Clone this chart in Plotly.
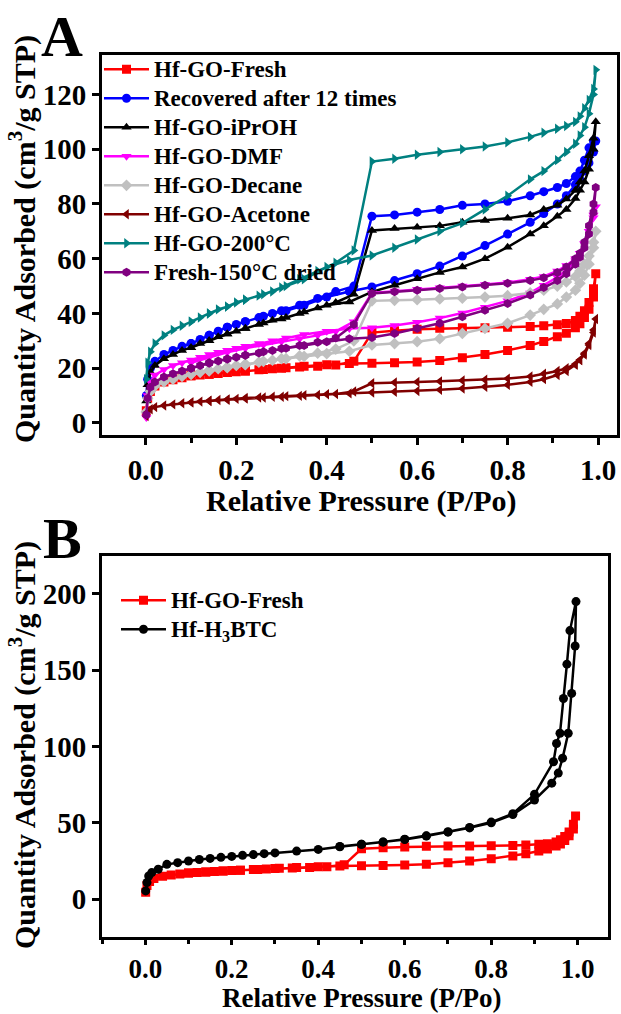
import plotly.graph_objects as go

# ---------------- Panel A: N2 isotherms of the Hf-GO samples ----------------
p_ads = [0.001, 0.004, 0.01, 0.02, 0.04, 0.06, 0.08, 0.10, 0.12, 0.14, 0.16, 0.18, 0.20,
         0.22, 0.25, 0.28, 0.31, 0.35, 0.40, 0.45, 0.50, 0.55, 0.60, 0.65, 0.70, 0.75,
         0.80, 0.85, 0.88, 0.91, 0.93, 0.95, 0.96, 0.97, 0.98, 0.99, 0.995]
p_des = [0.99, 0.98, 0.97, 0.96, 0.95, 0.93, 0.91, 0.88, 0.85, 0.80, 0.75, 0.70, 0.65,
         0.60, 0.55, 0.50, 0.46, 0.42, 0.38, 0.34, 0.30, 0.26, 0.22, 0.18, 0.14, 0.10]

fresh_ads = [4.5, 9, 11.5, 13.5, 15, 15.8, 16.5, 17.2, 17.5, 17.8, 18.1, 18.4, 18.7,
             19, 19.4, 19.8, 20.2, 20.7, 21.3, 21.7, 21.8, 22, 22.3, 22.8, 23.8, 25,
             26.5, 28.3, 29.8, 31.5, 32.8, 34.8, 36.2, 38.5, 41.5, 46, 54.5]
fresh_des = [49, 44, 41, 39, 37.4, 36.3, 35.9, 35.5, 35.2, 35, 34.8, 34.8, 34.6,
             34.2, 33.7, 33, 22.5, 21.2, 20.7, 20.4, 20, 19.5, 19, 18.4, 17.8, 17.2]

recov_ads = [10, 16, 20, 22.5, 25, 26.5, 28, 29, 30.5, 32, 33.5, 35, 36,
             37, 38.5, 40, 41, 43, 46, 48, 49.7, 52, 54.5, 57.3, 61, 64.8,
             69, 73.3, 76.5, 80, 83, 87, 89, 92, 95, 99, 103]
recov_des = [103, 100.5, 96, 92, 90, 87.5, 86, 84.5, 83, 81, 80, 79.5, 78,
             77, 76, 75.5, 50, 48, 45.5, 43, 41, 39, 37, 35, 32, 29]

iproh_ads = [8, 14, 18.5, 21, 23.5, 25, 26.5, 27.5, 29, 30, 31.5, 32.5, 33.5,
             34.5, 36, 37.5, 38.5, 40.5, 43, 44.2, 47.9, 50.3, 52.7, 55, 57, 60,
             64.2, 69, 72, 75.5, 78, 82, 85, 88, 92.7, 100, 110]
iproh_des = [104, 97.6, 92, 88, 85, 81.8, 79.5, 78, 76, 74.8, 74, 73.3, 72,
             71.5, 71, 70.3, 47, 44, 42, 40, 38, 36.5, 34.5, 32.5, 30, 27.5]

dmf_ads = [2, 10, 15, 17.5, 19.5, 21, 22, 23, 24, 25, 25.8, 26.6, 27.3,
           28, 29, 30, 31, 32.3, 33.5, 34.5, 34.8, 35.6, 36.8, 38.3, 40.2, 42.3,
           44.6, 47.5, 50.3, 53.2, 55.8, 59.3, 62, 65.5, 70, 75, 79]
dmf_des = [76, 70, 65.5, 62, 60, 57.5, 55.5, 53.5, 52.5, 51.3, 50.6, 50, 49.4,
           48.8, 48.2, 47.5, 37, 33.5, 32, 30.8, 29.8, 28.6, 27.3, 25.8, 24, 22]

decane_ads = [4, 9, 11.5, 13.5, 15, 16, 17, 17.8, 18.5, 19.2, 19.8, 20.4, 21,
              21.5, 22.2, 22.9, 23.5, 24.3, 25.3, 26.2, 28.5, 29, 29.7, 30.8, 32.7, 34.5,
              36.4, 39.4, 41.5, 43.5, 46, 48.5, 51, 54, 58, 64, 70]
decane_des = [66, 61, 58, 55.5, 53.5, 51.5, 50, 48.5, 47.5, 46.5, 46, 45.6, 45.3,
              45, 44.8, 44.6, 30, 27, 25.5, 24.5, 23.5, 22.5, 21.3, 20.2, 19, 17.8]

acetone_ads = [2.5, 4, 5, 5.8, 6.4, 6.8, 7.2, 7.5, 7.8, 8.1, 8.4, 8.6, 8.8,
               9.1, 9.3, 9.6, 9.8, 10.1, 10.5, 10.8, 11.1, 11.4, 11.7, 12.1, 12.6, 13.2,
               13.9, 15, 16, 17.5, 19, 21.2, 23, 25, 28.5, 33, 38]
acetone_des = [34, 29, 25.5, 23, 21.5, 20, 19, 18, 17, 16.2, 15.8, 15.5, 15.2,
               15, 14.8, 14.5, 11.5, 10.6, 10.2, 9.9, 9.6, 9.3, 8.9, 8.5, 8, 7.5]

t200_ads = [16, 22, 26, 29, 32, 34, 35.5, 37, 38.5, 40, 41.5, 42.5, 44,
            45, 46.5, 48, 50, 52.5, 57, 59.5, 61.2, 64, 67, 70, 73, 78,
            83, 89, 92, 96, 99, 102, 105, 108, 113, 120, 129]
t200_des = [122, 118, 115, 112, 110, 108.5, 107.5, 106, 104.5, 102.5, 101, 100, 99,
            98, 96.5, 95.5, 63, 58.5, 55.5, 52.5, 49.5, 47, 45, 42.5, 40, 37]

dried_ads = [3, 9, 13, 15, 16.8, 18, 19, 20, 21, 21.8, 22.6, 23.4, 24,
             24.7, 25.6, 26.5, 27.3, 28.3, 29.7, 30.8, 31.2, 32.7, 34.5, 36.4, 38.8, 41.2,
             43.6, 46.7, 49.5, 52, 54.5, 58, 60.5, 64, 69, 77, 86]
dried_des = [80, 72, 66, 62, 60, 57, 55, 53, 52, 51, 50.3, 49.7, 49.1,
             48.5, 47.9, 47.3, 36, 31, 29.5, 28.3, 27.2, 26, 24.7, 23.4, 22, 20]

series_a = [
    ("Hf-GO-Fresh", fresh_ads, fresh_des, "#FF0000", "square"),
    ("Recovered after 12 times", recov_ads, recov_des, "#0000FF", "circle"),
    ("Hf-GO-iPrOH", iproh_ads, iproh_des, "#000000", "triangle-up"),
    ("Hf-GO-DMF", dmf_ads, dmf_des, "#FF00FF", "triangle-down"),
    ("Hf-GO-Decane", decane_ads, decane_des, "#C0C0C0", "diamond"),
    ("Hf-GO-Acetone", acetone_ads, acetone_des, "#800000", "triangle-left"),
    ("Hf-GO-200°C", t200_ads, t200_des, "#008080", "triangle-right"),
    ("Fresh-150°C dried", dried_ads, dried_des, "#800080", "hexagon"),
]

# ---------------- Panel B: Hf-GO vs Hf-H3BTC ----------------
btc_p_ads = [0.001, 0.004, 0.008, 0.015, 0.03, 0.05, 0.075, 0.10, 0.125, 0.15, 0.175, 0.20,
             0.225, 0.25, 0.275, 0.30, 0.35, 0.40, 0.45, 0.50, 0.55, 0.60, 0.65, 0.70,
             0.75, 0.80, 0.85, 0.90, 0.94, 0.955, 0.965, 0.978, 0.986, 0.994, 0.996]
btc_ads = [5.4, 10.9, 15.2, 17.4, 19.6, 22.8, 23.9, 25, 26, 26.7, 27.4, 28,
           28.7, 29.2, 29.8, 30.3, 31.5, 32.6, 34.3, 35.9, 37.4, 39.1, 41.3, 43.9,
           46.7, 50, 55.4, 65, 76, 82.6, 92.4, 108.7, 134.8, 165.9, 195]
btc_p_des = [0.982, 0.975, 0.967, 0.959, 0.951, 0.944, 0.90, 0.85, 0.80, 0.75, 0.70,
             0.65, 0.60, 0.55, 0.50, 0.45]
btc_des = [176, 154, 131.5, 108.7, 102, 90, 68.7, 56, 50.5, 47, 44.2,
           41.5, 39.3, 37.5, 36, 34.5]

FONT = "Liberation Serif, Times New Roman, serif"
LEGEND_TEXT = '<span style="font-size:23px">{}</span>'
MARKER_SIZE = 9
fig = go.Figure()

for name, ads, des, color, symbol in series_a:
    fig.add_trace(go.Scatter(
        x=p_ads + p_des, y=ads + des, name=LEGEND_TEXT.format(name), mode="lines+markers",
        line=dict(color=color, width=2.5),
        marker=dict(symbol=symbol, size=MARKER_SIZE, color=color),
        xaxis="x", yaxis="y", legend="legend"))

fig.add_trace(go.Scatter(
    x=p_ads + p_des, y=fresh_ads + fresh_des, name=LEGEND_TEXT.format("Hf-GO-Fresh"),
    mode="lines+markers",
    line=dict(color="#FF0000", width=2.5),
    marker=dict(symbol="square", size=MARKER_SIZE, color="#FF0000"),
    xaxis="x2", yaxis="y2", legend="legend2"))
fig.add_trace(go.Scatter(
    x=btc_p_ads + btc_p_des, y=btc_ads + btc_des, name=LEGEND_TEXT.format("Hf-H<sub>3</sub>BTC"),
    mode="lines+markers",
    line=dict(color="#000000", width=2.5),
    marker=dict(symbol="circle", size=MARKER_SIZE, color="#000000"),
    xaxis="x2", yaxis="y2", legend="legend2"))

W, H = 621, 1014
axis_common = dict(
    showline=True, linewidth=3, linecolor="black", mirror=True,
    ticks="outside", ticklen=7, tickwidth=3, tickcolor="black",
    showgrid=False, zeroline=False,
    tickfont=dict(family=FONT, size=29, color="black", weight="bold"),
)
xminor = dict(dtick=0.1, ticks="outside", ticklen=5, tickwidth=3, tickcolor="black", showgrid=False)
xticks = dict(tickvals=[0, 0.2, 0.4, 0.6, 0.8, 1.0],
              ticktext=["0.0", "0.2", "0.4", "0.6", "0.8", "1.0"])

legend_font = dict(family=FONT, size=20, color="black", weight="bold")
fig.update_layout(
    width=W, height=H, margin=dict(l=0, r=0, t=0, b=0),
    paper_bgcolor="white", plot_bgcolor="white",
    font=dict(family=FONT, color="black", weight="bold"),
    xaxis=dict(axis_common, **xticks, domain=[102 / W, 617 / W], range=[-0.097, 1.042],
               minor=xminor, anchor="y"),
    yaxis=dict(axis_common, domain=[1 - 437 / H, 1 - 55 / H], range=[-4.5, 134.5],
               tickvals=[0, 20, 40, 60, 80, 100, 120], anchor="x"),
    xaxis2=dict(axis_common, **xticks, domain=[102 / W, 608 / W], range=[-0.1, 1.07],
                minor=dict(xminor, ticklen=4), ticklen=5, anchor="y2",
                tickfont=dict(family=FONT, size=27, color="black", weight="bold")),
    yaxis2=dict(axis_common, domain=[1 - 941 / H, 1 - 558 / H], range=[-25, 225],
                tickvals=[0, 50, 100, 150, 200], anchor="x2"),
    legend=dict(x=99 / W, y=1 - 50 / H, xanchor="left", yanchor="top",
                bgcolor="rgba(0,0,0,0)", itemwidth=45, tracegroupgap=0, font=legend_font),
    legend2=dict(x=116 / W, y=1 - 583 / H, xanchor="left", yanchor="top",
                 bgcolor="rgba(0,0,0,0)", itemwidth=45, tracegroupgap=0, font=legend_font),
)

ytitle = "Quantity Adsorbed (cm<sup>3</sup>/g STP)"
xtitle = "Relative Pressure (P/Po)"
for text, cx, cy, angle, size in [(ytitle, 22, 240, -90, 30), (ytitle, 22, 748, -90, 30),
                                  (xtitle, 361, 503, 0, 30), (xtitle, 361, 1002, 0, 27)]:
    fig.add_annotation(text=text, textangle=angle, x=cx / W, y=1 - cy / H,
                       xref="paper", yref="paper", xanchor="center", yanchor="middle",
                       showarrow=False,
                       font=dict(family=FONT, size=size, color="black", weight="bold"))
for text, cx, cy in [("A", 62, 37), ("B", 62, 541)]:
    fig.add_annotation(text=text, x=cx / W, y=1 - cy / H, xref="paper", yref="paper",
                       xanchor="center", yanchor="middle", showarrow=False,
                       font=dict(family=FONT, size=58, color="black", weight="bold"))

fig.write_html("out.html")
